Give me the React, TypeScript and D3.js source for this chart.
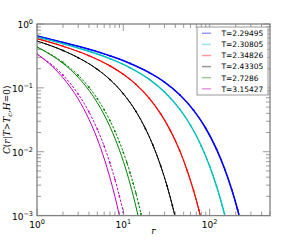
import * as d3 from "d3";

// correlation function C(r) for each temperature
const temps = ["T=2.29495", "T=2.30805", "T=2.34826", "T=2.43305", "T=2.7286", "T=3.15427"];
const colors = ["#0000ff", "#00bfbf", "#ff0000", "#000000", "#008000", "#bf00bf"];
const widths = [1.6, 1.4, 1.2, 1, 1, 1];

const rBlue = [1, 2, 4, 7, 12, 20, 30, 45, 65, 90, 120, 150, 180, 210, 230];
const cBlue = [0.649, 0.515, 0.401, 0.317, 0.241, 0.173, 0.123, 0.078, 0.0448, 0.0233, 0.011, 0.00526, 0.00256, 0.00126, 0.00078];
const rCyan = [1, 2, 4, 7, 12, 20, 30, 45, 60, 80, 100, 120, 140, 155];
const cCyan = [0.627, 0.492, 0.374, 0.286, 0.206, 0.136, 0.0864, 0.0466, 0.026, 0.0123, 0.00593, 0.0029, 0.00143, 0.00084];
const rRed = [1, 2, 4, 7, 10, 14, 20, 27, 35, 45, 55, 65, 75, 82];
const cRed = [0.589, 0.448, 0.319, 0.221, 0.163, 0.1135, 0.0686, 0.0395, 0.0216, 0.0104, 0.00505, 0.00248, 0.00123, 0.00076];
const rBlack = [1, 2, 3, 5, 7, 10, 14, 18, 22, 27, 32, 37, 42];
const cBlack = [0.542, 0.385, 0.297, 0.195, 0.135, 0.0808, 0.0427, 0.0231, 0.0127, 0.00608, 0.00295, 0.00144, 0.00071];
const rGreen = [1, 1.5, 2, 3, 4, 5, 6, 7, 8, 9, 10, 11, 12, 13, 14, 15];
const cGreen = [0.437, 0.319, 0.242, 0.146, 0.0916, 0.0585, 0.0378, 0.0247, 0.0162, 0.0107, 0.00705, 0.00468, 0.00311, 0.00207, 0.00138, 0.000925];
const rMagenta = [1, 1.5, 2, 2.5, 3, 4, 5, 6, 7, 8, 9, 10];
const cMagenta = [0.339, 0.217, 0.144, 0.0976, 0.067, 0.0322, 0.0158, 0.00783, 0.00392, 0.00198, 0.001, 0.00051];

// simulation points (dashed) that drift off for the two hottest runs
const rGreenSim = [1, 2, 3, 4, 5, 6, 7, 8, 9, 10, 11, 12, 13, 14, 15, 16, 17];
const cGreenSim = [0.437, 0.251, 0.1575, 0.1023, 0.0678, 0.0454, 0.0307, 0.0209, 0.0143, 0.0098, 0.00675, 0.00466, 0.00322, 0.00223, 0.00155, 0.00107, 0.00075];
const rMagentaSim = [1, 2, 3, 4, 5, 6, 7, 8, 9, 10, 11];
const cMagentaSim = [0.339, 0.158, 0.0799, 0.042, 0.0225, 0.0122, 0.00667, 0.00367, 0.00203, 0.00113, 0.00063];

const solid = [
  [rBlue, cBlue],
  [rCyan, cCyan],
  [rRed, cRed],
  [rBlack, cBlack],
  [rGreen, cGreen],
  [rMagenta, cMagenta],
];
const dashed = [
  [rBlue, cBlue],
  [rCyan, cCyan],
  [rRed, cRed],
  [rBlack, cBlack],
  [rGreenSim, cGreenSim],
  [rMagentaSim, cMagentaSim],
];

const xExp = [0, 1, 2];
const yExp = [0, -1, -2, -3];

export default function App() {
  const left = 37, right = 270, top = 24, bottom = 215.6;
  const x = d3.scaleLog().domain([1, 500]).range([left, right]);
  const y = d3.scaleLog().domain([1e-3, 1]).range([bottom, top]);

  const line = d3
    .line<[number, number]>()
    .x((d) => x(d[0]))
    .y((d) => y(d[1]))
    .curve(d3.curveMonotoneX);

  const pts = (s: number[][]) => s[0].map((r, i) => [r, s[1][i]] as [number, number]);

  const xt = x.ticks();
  const yt = y.ticks();
  const isMajor = (v: number) => Math.abs(Math.log10(v) - Math.round(Math.log10(v))) < 1e-6;
  const tc = "#808080";
  const majL = 7, minL = 4;

  return (
    <svg
      width={300}
      height={240}
      style={{ position: "absolute", left: 0, top: 0, fontFamily: "DejaVu Sans" }}
    >
      <rect width={300} height={240} fill="#fff" />
      <defs>
        <clipPath id="pa">
          <rect x={left} y={top} width={right - left} height={bottom - top} />
        </clipPath>
      </defs>

      <g clipPath="url(#pa)" fill="none">
        {solid.map((s, i) => (
          <path key={"s" + i} d={line(pts(s)) || ""} stroke={colors[i]} strokeWidth={widths[i]} />
        ))}
        {dashed.map((s, i) => (
          <path
            key={"d" + i}
            d={line(pts(s)) || ""}
            stroke={colors[i]}
            strokeWidth={1}
            strokeDasharray="2.5,1.5"
          />
        ))}
        {dashed.map((s, i) =>
          pts(s).map((p, j) => (
            <circle key={"m" + i + "-" + j} cx={x(p[0])} cy={y(p[1])} r={0.9} fill={colors[i]} />
          ))
        )}
      </g>

      {/* ticks, inward on all four sides */}
      <g stroke={tc} strokeWidth={0.8}>
        {xt.map((v, i) => {
          const L = isMajor(v) ? majL : minL;
          const px = x(v);
          return (
            <g key={"xt" + i}>
              <line x1={px} x2={px} y1={bottom} y2={bottom - L} />
              <line x1={px} x2={px} y1={top} y2={top + L} />
            </g>
          );
        })}
        {yt.map((v, i) => {
          const L = isMajor(v) ? majL : minL;
          const py = y(v);
          return (
            <g key={"yt" + i}>
              <line x1={left} x2={left + L} y1={py} y2={py} />
              <line x1={right} x2={right - L} y1={py} y2={py} />
            </g>
          );
        })}
      </g>
      <rect
        x={left}
        y={top}
        width={right - left}
        height={bottom - top}
        fill="none"
        stroke={tc}
        strokeWidth={1.3}
      />

      {/* tick labels */}
      <g fontSize={9} fill="#000">
        {xExp.map((e) => (
          <text key={"xl" + e} x={x(Math.pow(10, e))} y={bottom + 12} textAnchor="middle">
            10<tspan dy={-4} fontSize={6.5}>{e}</tspan>
          </text>
        ))}
        {yExp.map((e) => (
          <text key={"yl" + e} x={left - 4} y={y(Math.pow(10, e)) + 4} textAnchor="end">
            10<tspan dy={-4} fontSize={6.5}>{e === 0 ? "0" : "\u2212" + -e}</tspan>
          </text>
        ))}
      </g>

      {/* axis labels */}
      <text
        x={(left + right) / 2}
        y={234}
        textAnchor="middle"
        fontFamily="DejaVu Serif"
        fontStyle="italic"
        fontSize={9}
      >
        r
      </text>
      <text
        transform={`translate(10,${(top + bottom) / 2}) rotate(-90)`}
        textAnchor="middle"
        fontFamily="DejaVu Serif"
        fontSize={9}
      >
        <tspan fontStyle="italic">C</tspan>(<tspan fontStyle="italic">r</tspan>|
        <tspan fontStyle="italic">T</tspan>&gt;<tspan fontStyle="italic">T</tspan>
        <tspan fontSize={6.5} dy={2} fontStyle="italic">c</tspan>
        <tspan dy={-2}>,</tspan>
        <tspan fontStyle="italic">H</tspan>=0)
      </text>

      {/* legend */}
      <g>
        <rect x={197} y={27} width={71} height={68} fill="#fff" stroke={tc} strokeWidth={0.8} />
        {temps.map((t, i) => {
          const ly = 33.3 + i * 11.1;
          return (
            <g key={"lg" + i}>
              <line x1={202} x2={211} y1={ly} y2={ly} stroke={colors[i]} strokeWidth={1.5} opacity={0.4} />
              <text x={221.5} y={ly + 2.8} fontSize={7.5}>
                {t}
              </text>
            </g>
          );
        })}
      </g>
    </svg>
  );
}
